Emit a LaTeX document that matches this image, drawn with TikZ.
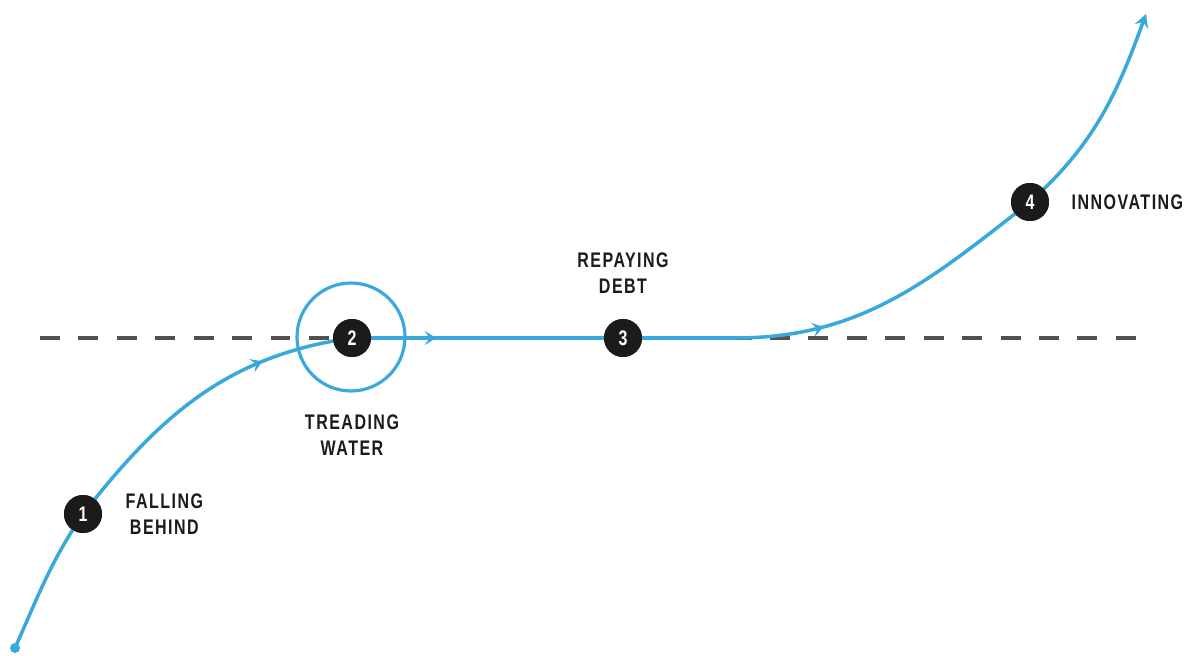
\documentclass[tikz,border=0pt]{standalone}
\usepackage{fontspec}
\newfontfamily\labelfont{Liberation Sans}[FakeStretch=0.76, LetterSpace=7]
\usetikzlibrary{positioning, arrows.meta, decorations.markings}
\definecolor{curveblue}{RGB}{57,169,220}
\definecolor{stepblack}{RGB}{28,26,26}
\definecolor{levelgray}{RGB}{80,80,80}

\begin{document}
\begin{tikzpicture}[
    x=0.02cm, y=-0.02cm,
    stage/.style={circle, fill=stepblack, minimum size=0.76cm, inner sep=0pt,
        text=white, font=\labelfont\bfseries\fontsize{12}{13}\selectfont},
    lbl/.style={align=center, inner sep=0pt, text=stepblack,
        font=\labelfont\bfseries\fontsize{12}{14.7}\selectfont},
    flow/.style={curveblue, line width=2pt},
    midarrow/.style={postaction={decorate, decoration={markings,
        mark=at position #1 with {\arrow{Stealth[length=6.5pt, width=8pt, inset=2.6pt]}}}}}
]
    \useasboundingbox (0,0) rectangle (1194,656);

    % Level
    \coordinate (dl) at (40,338);
    \coordinate (dr) at (1140,338);
    \draw[levelgray, line width=2.2pt, dash pattern=on 11.34pt off 10.53pt] (dl) -- (dr);

    % Stages
    \node[stage] (n1) at (83,514) {1};
    \node[stage] (n2) at (352,338) {2};
    \node[stage] (n3) at (623,338) {3};
    \node[stage] (n4) at (1030,202) {4};

    % Path
    \coordinate (s) at (15,648);
    \coordinate (bend) at (735,338);
    \coordinate (top) at (1146,14);
    \draw[flow] (s) to[out=66,in=236] (n1.center);
    \draw[flow, midarrow=0.72] (n1.center) to[out=52,in=188] (n2.center);
    \draw[flow, midarrow=0.22] (n2.center) -- (n3.center) -- (bend);
    \draw[flow, midarrow=0.27] (bend) to[out=0,in=218] (n4.center);
    \draw[flow, -{Stealth[length=7.5pt, width=8pt, inset=2.6pt]}] (n4.center) to[out=42,in=250] (top);
    \fill[curveblue] (s) circle (5);

    % redraw stages on top
    \node[stage] at (n1) {1};
    \node[stage] at (n2) {2};
    \node[stage] at (n3) {3};
    \node[stage] at (n4) {4};

    % Ring
    \node[circle, draw=curveblue, line width=1.8pt, minimum size=2.16cm] (ring) at (351,337) {};

    % Labels
    \node[lbl, right=0.46cm of n1] (l1) {FALLING\\BEHIND};
    \node[lbl, below=1.15cm of n2] (l2) {TREADING\\WATER};
    \node[lbl, above=0.5cm of n3] (l3) {REPAYING\\DEBT};
    \node[lbl, right=0.44cm of n4] (l4) {INNOVATING};
\end{tikzpicture}
\end{document}
